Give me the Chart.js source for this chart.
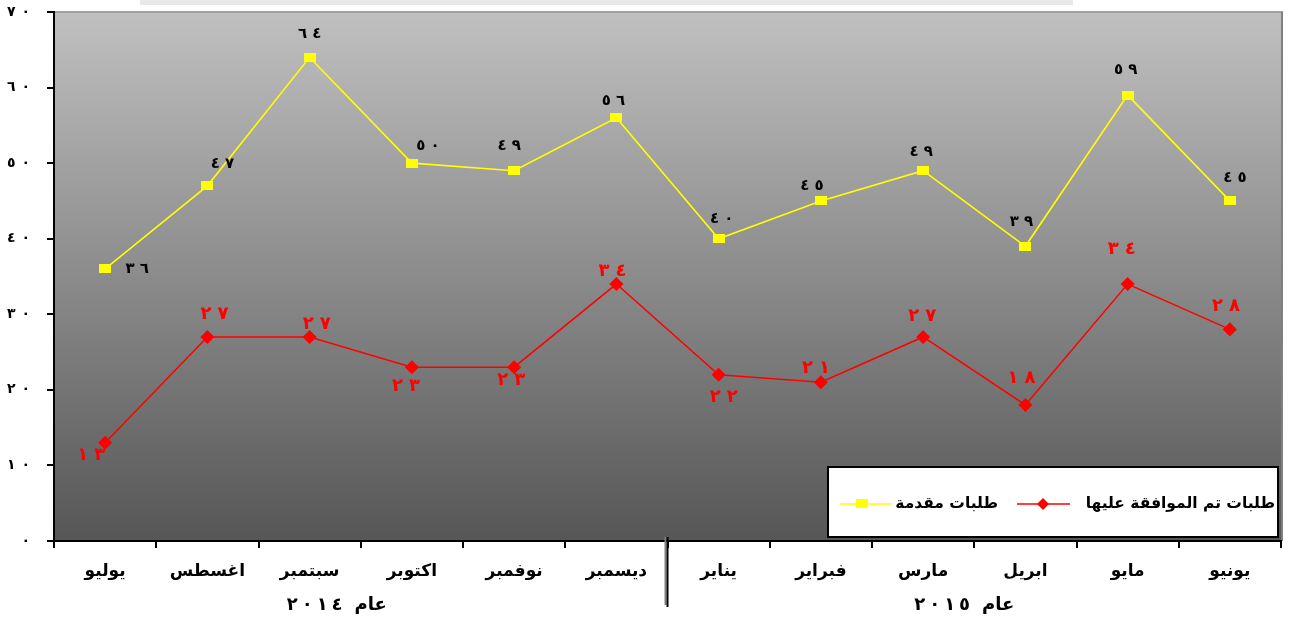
<!DOCTYPE html>
<html><head><meta charset="utf-8">
<script src="https://cdn.jsdelivr.net/npm/chart.js@4"></script>
<style>html,body{margin:0;padding:0;background:#fff}#wrap{width:1291px;height:621px;position:relative}</style>
</head><body><div id="wrap"><canvas id="c" width="1291" height="621"></canvas></div>
<script>
const months = ['يوليو','اغسطس','سبتمبر','اكتوبر','نوفمبر','ديسمبر','يناير','فبراير','مارس','ابريل','مايو','يونيو'];
const submitted = [36,47,64,50,49,56,40,45,49,39,59,45];
const approved = [13,27,27,23,23,34,22,21,27,18,34,28];
const yTickLabels = ['٠','١٠','٢٠','٣٠','٤٠','٥٠','٦٠','٧٠'];
const seriesNames = ['طلبات مقدمة','طلبات تم الموافقة عليها'];
const yearWord = 'عام';
const yearNumbers = ['٢٠١٤','٢٠١٥'];
const yearSpans = [[0,5],[6,11]];
// label offsets (pixels) relative to each point
const submittedLabelOffsets = [[32,0],[15,-22],[0,-23],[16,-17],[-5,-25],[-3,-17],[3,-20],[-9,-15],[-2,-19],[-4,-24],[-2,-25],[5,-23]];
const approvedLabelOffsets = [[-14,13],[7,-23],[7,-13],[-6,19],[-3,13],[-4,-13],[5,23],[-5,-14],[-1,-21],[-4,-27],[-6,-35],[-4,-23]];

const FONT = "'DejaVu Sans', sans-serif";
const toAr = n => String(n).replace(/\d/g, d => '٠١٢٣٤٥٦٧٨٩'[d]);

function spacedWidth(ctx, text, gap) {
  const chars = Array.from(text);
  return chars.reduce((s, c) => s + ctx.measureText(c).width, 0) + gap * (chars.length - 1);
}
function drawSpaced(ctx, text, cx, cy, gap) {
  const chars = Array.from(text);
  const total = spacedWidth(ctx, text, gap);
  let x = cx - total / 2;
  ctx.textAlign = 'left';
  chars.forEach(c => { ctx.fillText(c, x, cy); x += ctx.measureText(c).width + gap; });
}

const yellowMarker = document.createElement('canvas');
yellowMarker.width = 12; yellowMarker.height = 9;
(() => { const g = yellowMarker.getContext('2d'); g.fillStyle = '#ffff00'; g.fillRect(0, 0, 12, 9); })();

const decor = {
  id: 'decor',
  beforeDraw(chart) {
    const {ctx, chartArea: a} = chart;
    ctx.save();
    ctx.fillStyle = '#e8e8e8';
    ctx.fillRect(140, 0, 933, 5);
    const g = ctx.createLinearGradient(0, a.top, 0, a.bottom);
    g.addColorStop(0, '#c0c0c0');
    g.addColorStop(1, '#565656');
    ctx.fillStyle = g;
    ctx.fillRect(a.left, a.top, a.right - a.left, a.bottom - a.top);
    ctx.strokeStyle = '#a0a0a0'; ctx.lineWidth = 2;
    ctx.beginPath(); ctx.moveTo(a.left, a.top); ctx.lineTo(a.right + 2, a.top); ctx.stroke();
    ctx.strokeStyle = '#808080'; ctx.lineWidth = 2;
    ctx.beginPath(); ctx.moveTo(a.right + 1, a.top); ctx.lineTo(a.right + 1, a.bottom); ctx.stroke();
    ctx.restore();
  },
  afterDraw(chart) {
    const {ctx, chartArea: a, scales} = chart;
    const x = scales.x, y = scales.y;
    ctx.save();
    ctx.textBaseline = 'middle';
    // y tick labels
    ctx.fillStyle = '#000'; ctx.font = 'bold 14px ' + FONT;
    yTickLabels.forEach((t, i) => {
      const yy = y.getPixelForValue(i * 10);
      const total = spacedWidth(ctx, t, 6);
      drawSpaced(ctx, t, 30 - total / 2, yy, 6);
    });
    // data labels
    const sets = [[0, submittedLabelOffsets, '#000', 'bold 15px ' + FONT, 5], [1, approvedLabelOffsets, '#ff0000', 'bold 18px ' + FONT, 6]];
    sets.forEach(([di, offs, col, font, gap]) => {
      const meta = chart.getDatasetMeta(di);
      ctx.fillStyle = col; ctx.font = font;
      meta.data.forEach((p, i) => {
        drawSpaced(ctx, toAr(chart.data.datasets[di].data[i]), p.x + offs[i][0], p.y + offs[i][1], gap);
      });
    });
    // separator between years
    const step = (x.getPixelForValue(1) - x.getPixelForValue(0));
    const sx = x.getPixelForValue(5) + step / 2;
    ctx.fillStyle = '#808080'; ctx.fillRect(sx - 3, a.bottom - 4, 2, 68);
    ctx.fillStyle = '#000'; ctx.fillRect(sx - 1, a.bottom - 4, 2, 70);
    // year labels: "عام" on the right, spaced number on the left
    ctx.fillStyle = '#000'; ctx.font = 'bold 18px ' + FONT;
    yearSpans.forEach(([f, t], i) => {
      const cx = (x.getPixelForValue(f) + x.getPixelForValue(t)) / 2 - (i === 0 ? 24 : 10);
      const numW = spacedWidth(ctx, yearNumbers[i], 4);
      const wordW = ctx.measureText(yearWord).width;
      const gapW = 12;
      const total = numW + gapW + wordW;
      const left = cx - total / 2;
      drawSpaced(ctx, yearNumbers[i], left + numW / 2, 605, 4);
      ctx.textAlign = 'left';
      ctx.fillText(yearWord, left + numW + gapW, 605);
    });
    // legend
    const L = {x: 828, y: 467, w: 450, h: 70};
    ctx.fillStyle = '#fff'; ctx.fillRect(L.x, L.y, L.w, L.h);
    ctx.strokeStyle = '#000'; ctx.lineWidth = 2; ctx.strokeRect(L.x, L.y, L.w, L.h);
    const ly = 504;
    ctx.font = 'bold 15.5px ' + FONT; ctx.textAlign = 'right';
    const ds = chart.data.datasets;
    // right entry: approved
    ctx.fillStyle = '#000'; ctx.fillText(ds[1].label, 1275, ly);
    ctx.strokeStyle = ds[1].borderColor; ctx.lineWidth = 1.5;
    ctx.beginPath(); ctx.moveTo(1017, ly); ctx.lineTo(1070, ly); ctx.stroke();
    ctx.fillStyle = ds[1].borderColor;
    ctx.beginPath(); ctx.moveTo(1043, ly - 6); ctx.lineTo(1049, ly); ctx.lineTo(1043, ly + 6); ctx.lineTo(1037, ly); ctx.closePath(); ctx.fill();
    // left entry: submitted
    ctx.fillStyle = '#000'; ctx.textAlign = 'right'; ctx.fillText(ds[0].label, 998, ly);
    ctx.strokeStyle = ds[0].borderColor; ctx.lineWidth = 1.5;
    ctx.beginPath(); ctx.moveTo(840, ly); ctx.lineTo(892, ly); ctx.stroke();
    ctx.fillStyle = ds[0].borderColor; ctx.fillRect(856, ly - 5, 12, 9);
    ctx.restore();
  }
};

new Chart(document.getElementById('c'), {
  type: 'line',
  data: {
    labels: months,
    datasets: [
      {label: seriesNames[0], data: submitted, borderColor: '#ffff00', backgroundColor: '#ffff00', borderWidth: 1.6,
       pointStyle: yellowMarker, pointRadius: 6, pointHoverRadius: 6, tension: 0},
      {label: seriesNames[1], data: approved, borderColor: '#ff0000', backgroundColor: '#ff0000', borderWidth: 1.5,
       pointStyle: 'rectRot', pointRadius: 6, pointHoverRadius: 6, tension: 0}
    ]
  },
  options: {
    responsive: false, animation: false, devicePixelRatio: 1,
    layout: {padding: {top: 12, right: 10, left: 0, bottom: 0}},
    plugins: {legend: {display: false}, tooltip: {enabled: false}},
    scales: {
      x: {
        type: 'category', offset: true,
        grid: {offset: true, drawOnChartArea: false, tickLength: 7, color: '#000', lineWidth: 2},
        border: {color: '#000', width: 2},
        ticks: {color: '#000', font: {family: FONT, size: 17, weight: 'bold'}, padding: 13, maxRotation: 0, autoSkip: false},
        afterFit: s => { s.height = 80; s.paddingLeft = 0; s.paddingRight = 0; }
      },
      y: {
        min: 0, max: 70,
        grid: {drawOnChartArea: false, tickLength: 7, color: '#000', lineWidth: 2},
        border: {color: '#000', width: 2},
        ticks: {stepSize: 10, display: false},
        afterFit: s => { s.width = 54; s.paddingTop = 0; s.paddingBottom = 0; }
      }
    }
  },
  plugins: [decor]
});
</script></body></html>
